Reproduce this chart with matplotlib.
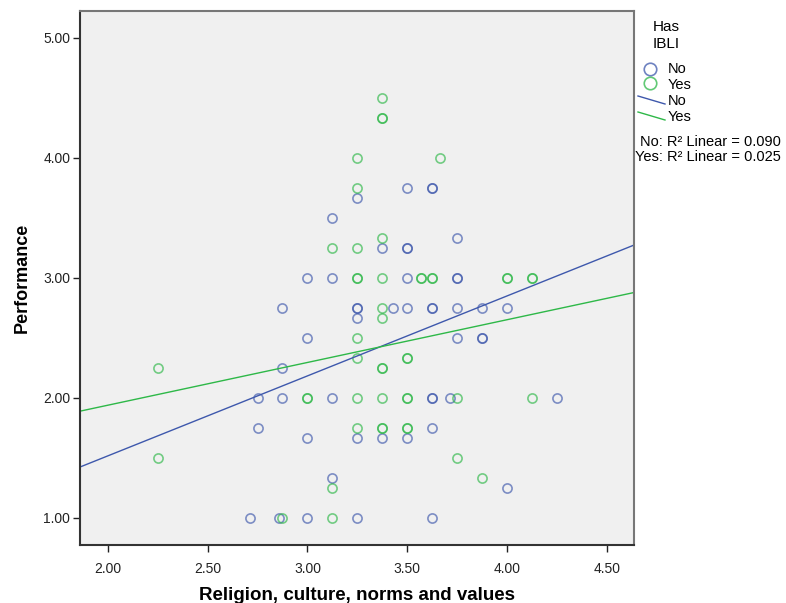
import numpy as np
import matplotlib
matplotlib.use('Agg')
import matplotlib.pyplot as plt
from matplotlib.lines import Line2D

plt.rcParams['font.family'] = ['Liberation Sans', 'DejaVu Sans']

# Has IBLI = No
no_x = [2.714, 2.75, 2.75, 2.857, 2.875, 2.875, 2.875, 3.0, 3.0, 3.0, 3.0,
        3.125, 3.125, 3.125, 3.125, 3.25, 3.25, 3.25, 3.25, 3.25, 3.25,
        3.375, 3.375, 3.429, 3.5, 3.5, 3.5, 3.5, 3.5, 3.5,
        3.625, 3.625, 3.625, 3.625, 3.625, 3.625, 3.625, 3.625,
        3.75, 3.75, 3.75, 3.75, 3.75, 3.714, 3.875, 3.875, 3.875, 4.0, 4.0, 4.25]
no_y = [1.0, 2.0, 1.75, 1.0, 2.75, 2.25, 2.0, 3.0, 2.5, 1.667, 1.0,
        3.5, 3.0, 2.0, 1.333, 3.667, 2.75, 2.75, 2.667, 1.667, 1.0,
        3.25, 1.667, 2.75, 3.75, 3.25, 3.25, 3.0, 2.75, 1.667,
        3.75, 3.75, 2.75, 2.75, 2.0, 2.0, 1.75, 1.0,
        3.333, 3.0, 3.0, 2.75, 2.5, 2.0, 2.75, 2.5, 2.5, 2.75, 1.25, 2.0]

# Has IBLI = Yes
yes_x = [2.25, 2.25, 2.875, 3.0, 3.0, 3.125, 3.125, 3.125,
         3.25, 3.25, 3.25, 3.25, 3.25, 3.25, 3.25, 3.25, 3.25,
         3.375, 3.375, 3.375, 3.375, 3.375, 3.375, 3.375, 3.375, 3.375, 3.375, 3.375, 3.375,
         3.5, 3.5, 3.5, 3.5, 3.5, 3.5, 3.571, 3.571, 3.625, 3.625, 3.667,
         3.75, 3.75, 3.875, 4.0, 4.0, 4.125, 4.125, 4.125]
yes_y = [2.25, 1.5, 1.0, 2.0, 2.0, 3.25, 1.25, 1.0,
         4.0, 3.75, 3.25, 3.0, 3.0, 2.5, 2.333, 2.0, 1.75,
         4.5, 4.333, 4.333, 3.333, 3.0, 2.75, 2.667, 2.25, 2.25, 2.0, 1.75, 1.75,
         2.333, 2.333, 2.0, 2.0, 1.75, 1.75, 3.0, 3.0, 3.0, 3.0, 4.0,
         2.0, 1.5, 1.333, 3.0, 3.0, 3.0, 3.0, 2.0]

# fit lines (intercept, slope)
fit_no = (0.186, 0.666)
fit_yes = (1.228, 0.356)
r2_no = 0.090
r2_yes = 0.025

blue = '#3E58AC'
green = '#2EB848'

fig = plt.figure(figsize=(7.86, 6.03), dpi=100)
ax = fig.add_axes([0.1018, 0.0962, 0.7048, 0.8856])
ax.set_facecolor('#F0F0F0')

ax.plot(no_x, no_y, 'o', mfc='none', mec=blue, mew=1.2, ms=6.6, alpha=0.65, ls='none')
ax.plot(yes_x, yes_y, 'o', mfc='none', mec=green, mew=1.2, ms=6.6, alpha=0.65, ls='none')

xl = (1.86, 4.637)
xs = np.array(xl)
ax.plot(xs, fit_no[0] + fit_no[1] * xs, color=blue, lw=1)
ax.plot(xs, fit_yes[0] + fit_yes[1] * xs, color=green, lw=1)

ax.set_xlim(*xl)
ax.set_ylim(0.775, 5.225)
ax.set_xticks([2.0, 2.5, 3.0, 3.5, 4.0, 4.5])
ax.set_yticks([1.0, 2.0, 3.0, 4.0, 5.0])
ax.xaxis.set_major_formatter(plt.FormatStrFormatter('%.2f'))
ax.yaxis.set_major_formatter(plt.FormatStrFormatter('%.2f'))
ax.tick_params(labelsize=10, colors='#222222', length=5, width=1)
ax.tick_params(axis='x', pad=7)
ax.tick_params(axis='y', pad=2)

for s in ['top', 'right']:
    ax.spines[s].set_color('#777777')
    ax.spines[s].set_linewidth(1.5)
for s in ['left', 'bottom']:
    ax.spines[s].set_color('#333333')
    ax.spines[s].set_linewidth(1.5)

ax.set_xlabel('Religion, culture, norms and values', fontsize=13.5, fontweight='bold', labelpad=8)
ax.set_ylabel('Performance', fontsize=13, fontweight='bold', labelpad=9)

# legend on the right
W, H = 786, 603
def fx(p):
    return p / W
def fy(p):
    return 1 - p / H

fig.text(fx(666), fy(27), 'Has', ha='center', va='center', fontsize=11)
fig.text(fx(666), fy(44), 'IBLI', ha='center', va='center', fontsize=11)
fig.add_artist(Line2D([fx(650)], [fy(69)], marker='o', mfc='none', mec=blue, mew=1.2, ms=9, alpha=0.75))
fig.add_artist(Line2D([fx(650)], [fy(83)], marker='o', mfc='none', mec=green, mew=1.2, ms=9, alpha=0.75))
fig.text(fx(668), fy(69), 'No', va='center', fontsize=10.5)
fig.text(fx(668), fy(85), 'Yes', va='center', fontsize=10.5)
fig.add_artist(Line2D([fx(638), fx(665)], [fy(96), fy(104)], color=blue, lw=1))
fig.add_artist(Line2D([fx(638), fx(665)], [fy(112), fy(120)], color=green, lw=1))
fig.text(fx(668), fy(101), 'No', va='center', fontsize=10.5)
fig.text(fx(668), fy(117), 'Yes', va='center', fontsize=10.5)
fig.text(fx(640), fy(142), 'No: R² Linear = %.3f' % r2_no, va='center', fontsize=10.5)
fig.text(fx(635), fy(157), 'Yes: R² Linear = %.3f' % r2_yes, va='center', fontsize=10.5)

fig.savefig('out.png', dpi=100)
